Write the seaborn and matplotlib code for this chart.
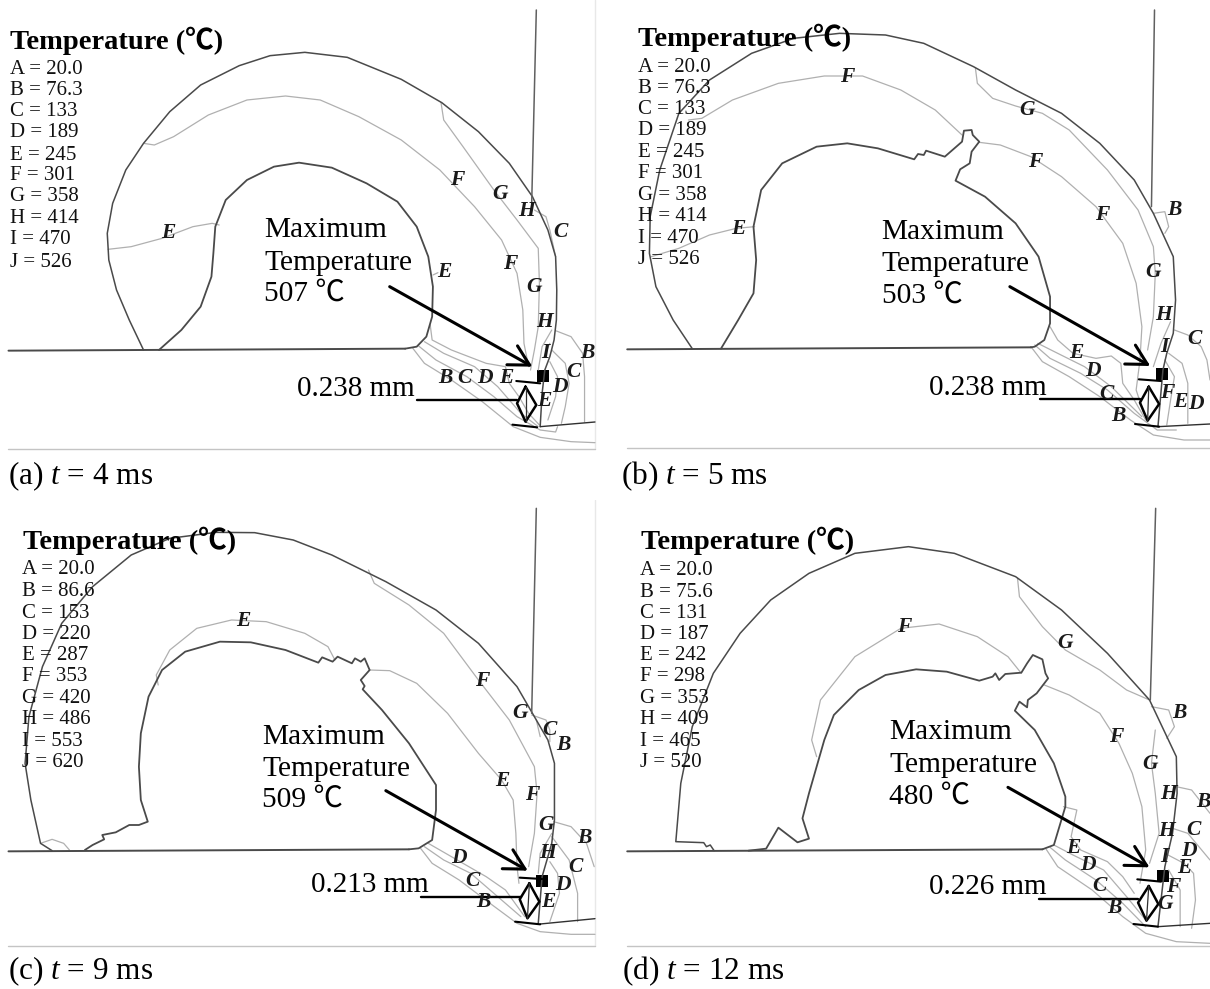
import matplotlib
matplotlib.use("Agg")
import matplotlib.pyplot as plt
import seaborn as sns

# ---- shared text ----
LEVEL_NAMES = list("ABCDEFGHIJ")
a_levels = ["20.0", "76.3", "133", "189", "245", "301", "358", "414", "470", "526"]
b_levels = ["20.0", "76.3", "133", "189", "245", "301", "358", "414", "470", "526"]
c_levels = ["20.0", "86.6", "153", "220", "287", "353", "420", "486", "553", "620"]
d_levels = ["20.0", "75.6", "131", "187", "242", "298", "353", "409", "465", "520"]

# ---- panel (a) ----
a_base = [(22,1052),(1050,1046)]
a_outer = [(372,1050),(335,960),(302,870),(282,780),(278,700),(292,610),(326,510),(372,430),(440,335),(520,255),(620,197),(700,167),(790,157),(900,172),(1040,238),(1145,308),(1240,395),(1320,490),(1380,590),(1420,690),(1440,770),(1443,870),(1442,960),(1436,1020),(1425,1070),(1412,1110),(1405,1180),(1400,1280)]
a_inner = [(412,1050),(470,990),(520,920),(548,830),(553,760),(558,680),(585,600),(640,540),(710,500),(775,488),(860,503),(950,550),(1030,605),(1080,680),(1110,770),(1122,860),(1120,950),(1105,1010),(1080,1040),(1050,1046)]
a_wall = [(1390,30),(1378,610)]
a_contours = [
    [(280,748),(340,740),(420,715),(500,680),(550,670),(568,675)],
    [(372,430),(400,435),(450,410),(540,345),(640,300),(740,288),(830,300),(930,350),(1040,420),(1140,510),(1230,620),(1300,720),(1340,820),(1355,930),(1358,1030),(1370,1100)],
    [(1143,308),(1150,360),(1200,440),(1280,570),(1340,660),(1395,745),(1398,850),(1395,980),(1385,1050),(1375,1110)],
    [(1122,825),(1135,818)],
    [(1385,630),(1415,650),(1425,690),(1440,770)],
    [(1440,992),(1480,1010),(1510,1060),(1515,1130),(1515,1266)],
    [(1430,1050),(1465,1090),(1475,1150),(1465,1220),(1455,1270)],
    [(1425,1085),(1445,1130),(1440,1190),(1420,1260)],
    [(1070,1045),(1100,1090),(1170,1140),(1250,1205),(1330,1280),(1400,1312),(1480,1325),(1542,1328)],
    [(1085,1038),(1130,1080),(1210,1130),(1280,1190),(1340,1250),(1400,1290),(1440,1296),(1445,1280)],
    [(1100,1025),(1150,1060),(1230,1100),(1290,1160),(1350,1240),(1395,1280)],
    [(1115,975),(1120,1020),(1170,1050),(1260,1090),(1310,1100),(1320,1150),(1345,1190),(1370,1240),(1398,1275)],
    [(1430,990),(1405,1040),(1395,1110)],
    [(1425,1030),(1410,1070)],
]
a_letters = [("F",1185,540),("G",1295,583),("H",1365,633),("C",1452,697),("E",437,700),("E",1152,815),("F",1323,793),("G",1385,860),("H",1412,967),("B",1522,1060),("I",1413,1058),("C",1487,1115),("D",1450,1160),("B",1155,1135),("C",1205,1135),("D",1257,1135),("E",1313,1135),("E",1412,1203)]

# ---- panel (b) ----
b_base = [(45,1048),(1100,1042)]
b_outer = [(215,1046),(165,960),(120,860),(103,760),(105,650),(130,510),(180,340),(260,240),(370,160),(480,115),(600,100),(720,105),(820,130),(950,200),(1060,270),(1180,340),(1280,430),(1370,540),(1420,640),(1472,770),(1478,900),(1472,1000),(1455,1060),(1445,1110),(1432,1280)]
b_inner = [(290,1046),(335,960),(375,880),(382,780),(375,680),(395,570),(450,490),(540,440),(620,430),(700,445),(795,478),(805,462),(820,465),(826,452),(875,470),(920,425),(925,392),(945,390),(948,405),(965,425),(945,455),(940,490),(915,508),(903,542),(980,590),(1060,670),(1120,770),(1150,890),(1150,970),(1135,1020),(1110,1040),(1100,1042)]
b_wall = [(1423,30),(1415,620)]
b_contours = [
    [(205,360),(240,355),(320,300),(440,250),(560,228),(660,228),(760,270),(850,330),(920,405)],
    [(965,427),(1020,435),(1100,470),(1180,530),(1270,620),(1340,730),(1375,850),(1390,980),(1385,1080),(1375,1170),(1395,1240)],
    [(955,205),(960,250),(1000,295),(1060,318),(1130,340),(1200,390),(1300,510),(1380,630),(1420,740),(1425,820),(1420,950),(1405,1050)],
    [(108,770),(180,745),(260,705),(330,685),(378,680)],
    [(1420,640),(1450,635),(1460,680),(1450,700)],
    [(1475,990),(1510,1005),(1545,1040),(1560,1080),(1568,1140)],
    [(1460,1060),(1495,1090),(1510,1150),(1510,1270)],
    [(1450,1080),(1475,1130),(1465,1200),(1455,1275)],
    [(1100,1040),(1130,1085),(1200,1130),(1280,1190),(1360,1260),(1420,1305),(1500,1320),(1568,1320)],
    [(1110,1035),(1150,1075),(1230,1120),(1300,1170),(1370,1240),(1430,1290),(1480,1290)],
    [(1118,1030),(1170,1060),(1240,1100),(1310,1160),(1390,1250)],
    [(1150,980),(1170,1020),(1210,1060),(1270,1075),(1310,1068),(1335,1090),(1340,1150),(1370,1200),(1400,1260)],
    [(1465,965),(1440,1030),(1420,1100)],
]
b_letters = [("F",620,232),("G",1090,330),("F",1112,485),("F",1285,645),("B",1475,630),("G",1418,815),("E",335,688),("H",1447,945),("C",1528,1018),("I",1450,1040),("E",1220,1060),("D",1262,1112),("C",1298,1182),("B",1328,1248),("F",1455,1180),("E",1490,1205),("D",1530,1212)]

# ---- panel (c) ----
c_base = [(22,1054),(1060,1048)]
c_outer = [(135,1052),(105,1030),(80,900),(65,790),(75,650),(110,500),(160,370),(240,260),(340,165),(440,115),(560,97),(660,98),(760,120),(860,165),(1000,245),(1130,330),(1240,430),(1340,560),(1420,720),(1437,790),(1437,960),(1430,1030),(1405,1130),(1395,1270)]
c_inner = [(220,1050),(240,1035),(270,1018),(265,1005),(300,997),(335,975),(360,975),(383,965),(365,900),(360,800),(365,700),(385,590),(420,510),(480,455),(570,425),(650,427),(740,450),(825,488),(835,472),(862,485),(875,470),(912,490),(920,475),(935,485),(945,475),(958,510),(935,540),(945,558),(940,568),(990,630),(1060,730),(1130,855),(1130,930),(1120,1020),(1085,1045),(1060,1048)]
c_wall = [(1390,25),(1378,640)]
c_contours = [
    [(410,555),(405,525),(440,450),(510,385),(600,360),(690,365),(790,400),(850,440),(868,480)],
    [(958,510),(1010,512),(1080,550),(1160,640),(1240,760),(1300,840),(1330,900),(1337,1000),(1340,1100),(1345,1150)],
    [(955,210),(970,250),(1060,315),(1150,400),(1240,540),(1320,660),(1385,800),(1392,880),(1385,1000),(1370,1100)],
    [(1378,645),(1415,660),(1425,690),(1425,725)],
    [(1390,660),(1400,710)],
    [(105,1030),(135,1018),(165,1030),(180,1050)],
    [(1435,965),(1480,980),(1520,1030),(1540,1100)],
    [(1430,1010),(1475,1080),(1497,1180),(1497,1265)],
    [(1425,1085),(1445,1120),(1450,1180),(1425,1265)],
    [(1430,1000),(1400,1060),(1395,1120)],
    [(1090,1045),(1120,1090),(1190,1140),(1270,1210),(1340,1270),(1400,1295),(1480,1303),(1542,1303)],
    [(1100,1040),(1150,1080),(1220,1120),(1290,1190),(1350,1250)],
    [(1110,1030),(1170,1070),(1260,1130),(1310,1170),(1360,1250)],
]
c_letters = [("E",630,362),("F",1250,542),("G",1348,640),("C",1425,690),("B",1460,735),("E",1303,842),("F",1380,885),("G",1415,975),("B",1515,1015),("H",1420,1058),("C",1492,1100),("D",1190,1075),("C",1225,1142),("B",1253,1205),("D",1458,1155),("E",1420,1205)]

# ---- panel (d) ----
d_base = [(45,1054),(1130,1048)]
d_outer = [(272,1052),(262,1035),(252,1040),(245,1028),(172,1025),(185,850),(215,680),(270,520),(340,400),(420,300),(520,220),(640,160),(780,140),(900,160),(1060,230),(1180,330),(1300,460),(1410,600),(1480,770),(1482,880),(1470,1000),(1450,1100),(1432,1280)]
d_inner = [(362,1052),(408,1046),(440,983),(490,1027),(520,1016),(503,955),(520,880),(560,720),(585,645),(650,570),(720,525),(800,508),(880,515),(965,542),(1000,530),(1007,520),(1017,540),(1033,522),(1075,518),(1090,490),(1105,465),(1130,478),(1138,520),(1145,535),(1115,580),(1092,600),(1090,622),(1070,605),(1058,632),(1110,690),(1160,790),(1190,890),(1190,920),(1160,1035),(1130,1048)]
d_wall = [(1426,25),(1412,600)]
d_contours = [
    [(540,770),(527,720),(550,600),(640,470),(760,385),(860,372),(960,410),(1040,470),(1075,520)],
    [(1135,555),(1200,585),(1280,640),(1330,730),(1365,820),(1390,920),(1400,1050),(1385,1150)],
    [(1065,235),(1070,290),(1130,380),(1190,450),(1280,510),(1350,570),(1410,600)],
    [(1425,690),(1415,790),(1425,880),(1435,1000),(1410,1090)],
    [(1415,620),(1460,630),(1475,680),(1455,715)],
    [(1480,860),(1520,870),(1568,940)],
    [(1470,985),(1510,1000),(1568,1080)],
    [(1450,1060),(1500,1090),(1525,1120),(1530,1200),(1520,1285)],
    [(1460,1110),(1490,1170),(1490,1280)],
    [(1140,1048),(1170,1100),(1260,1170),(1340,1250),(1400,1300),(1480,1325),(1568,1330)],
    [(1150,1042),(1190,1080),(1270,1140),(1340,1210),(1400,1280)],
    [(1160,1035),(1210,1065),(1290,1110),(1350,1190),(1400,1260)],
    [(1185,920),(1220,930),(1205,1010),(1230,1050),(1300,1085),(1340,1130),(1370,1180)],
]
d_letters = [("F",768,382),("G",1190,428),("B",1488,640),("F",1322,710),("G",1410,793),("H",1460,883),("B",1552,905),("H",1455,993),("C",1525,990),("D",1512,1052),("E",1210,1043),("D",1250,1095),("I",1450,1070),("E",1502,1105),("F",1472,1162),("C",1280,1158),("G",1450,1212),("B",1318,1225)]

sns.set_theme(style="white")
SERIF = ["Liberation Serif", "Noto Sans CJK SC", "DejaVu Sans"]
plt.rcParams["font.family"] = SERIF
plt.rcParams["mathtext.fontset"] = "custom"
plt.rcParams["mathtext.it"] = "Liberation Serif:italic"
plt.rcParams["mathtext.rm"] = "Liberation Serif"
plt.rcParams["mathtext.default"] = "regular"

W, H = 1210, 989
fig = plt.figure(figsize=(W / 100, H / 100), dpi=100, facecolor="white")

DARK, LIGHT, RULE = "#4a4a4a", "#b0b0b0", "#c4c4c4"


def trace(ax, pts, color, lw):
    sns.lineplot(x=[p[0] for p in pts], y=[p[1] for p in pts], sort=False,
                 estimator=None, errorbar=None, color=color, linewidth=lw,
                 legend=False, ax=ax)


panels = [
    dict(box=(0, 0, 605, 495), base=a_base, outer=a_outer, inner=a_inner, wall=a_wall, contours=a_contours,
         letters=a_letters, levels=a_levels, title=(25, 122), lx=25,
         ly=[208,272,336,398,465,527,590,656,720,787], mx=685, my=[691,788,881], mt="507", dist="0.238 mm",
         dt=(770,1166), arrow=((1010,860),(1380,1100)), sq=(1408,1127), dl=((1082,1200),(1340,1200)),
         t1=((1338,1143),(1400,1150)), dia=[(1362,1160),(1390,1215),(1362,1265),(1340,1210)],
         t2=((1328,1274),(1392,1282)), floor=((1400,1280),(1542,1266)), rule=(22,1542,1348), edge=1542,
         cap="(a) $\\mathit{t}$ = 4 ms", cp=(22,1430)),
    dict(box=(610, 0, 600, 495), base=b_base, outer=b_outer, inner=b_inner, wall=b_wall, contours=b_contours,
         letters=b_letters, levels=b_levels, title=(72, 112), lx=72,
         ly=[202,265,330,392,457,522,585,650,715,780], mx=710, my=[696,791,886], mt="503", dist="0.238 mm",
         dt=(833,1164), arrow=((1045,860),(1412,1098)), sq=(1442,1122), dl=((1125,1197),(1385,1197)),
         t1=((1382,1138),(1440,1143)), dia=[(1408,1160),(1435,1212),(1405,1262),(1385,1208)],
         t2=((1372,1272),(1435,1280)), floor=((1432,1280),(1568,1272)), rule=(45,1568,1345), edge=None,
         cap="(b) $\\mathit{t}$ = 5 ms", cp=(28,1430)),
    dict(box=(0, 500, 605, 489), base=c_base, outer=c_outer, inner=c_inner, wall=c_wall, contours=c_contours,
         letters=c_letters, levels=c_levels, title=(60, 122), lx=58,
         ly=[210,275,340,403,468,530,595,660,724,787], mx=680, my=[711,806,898], mt="509", dist="0.213 mm",
         dt=(805,1156), arrow=((1000,872),(1368,1112)), sq=(1405,1142), dl=((1090,1190),(1350,1190)),
         t1=((1347,1133),(1405,1137)), dia=[(1372,1150),(1398,1205),(1367,1255),(1347,1198)],
         t2=((1335,1265),(1400,1273)), floor=((1400,1272),(1542,1256)), rule=(22,1542,1338), edge=1542,
         cap="(c) $\\mathit{t}$ = 9 ms", cp=(22,1414)),
    dict(box=(610, 500, 600, 489), base=d_base, outer=d_outer, inner=d_inner, wall=d_wall, contours=d_contours,
         letters=d_letters, levels=d_levels, title=(80, 122), lx=78,
         ly=[212,277,340,403,467,530,595,660,723,787], mx=730, my=[696,794,890], mt="480", dist="0.226 mm",
         dt=(833,1161), arrow=((1040,862),(1410,1102)), sq=(1446,1128), dl=((1120,1197),(1380,1197)),
         t1=((1378,1138),(1440,1145)), dia=[(1408,1158),(1433,1212),(1402,1262),(1380,1208)],
         t2=((1368,1272),(1432,1280)), floor=((1432,1280),(1568,1270)), rule=(45,1568,1338), edge=None,
         cap="(d) $\\mathit{t}$ = 12 ms", cp=(32,1414)),
]

for p in panels:
    x0, y0, w, h = p["box"]
    ax = fig.add_axes([x0 / W, 1 - (y0 + h) / H, w / W, h / H])
    ax.set_axis_off()
    if p["edge"]:
        trace(ax, [(p["edge"], 0), (p["edge"], p["rule"][2])], "#e8e8e8", 1.0)
    for c in p["contours"]:
        trace(ax, c, LIGHT, 0.9)
    trace(ax, p["base"], DARK, 1.4)
    trace(ax, p["outer"], DARK, 1.1)
    trace(ax, p["inner"], DARK, 1.3)
    trace(ax, p["wall"], "#606060", 1.1)
    trace(ax, p["floor"], "#303030", 1.0)
    trace(ax, [(p["rule"][0], p["rule"][2]), (p["rule"][1], p["rule"][2])], RULE, 1.0)

    # dimension marks
    trace(ax, p["dl"], "black", 1.7)
    trace(ax, p["t1"], "black", 1.5)
    trace(ax, p["t2"], "black", 1.5)
    trace(ax, p["dia"] + p["dia"][:1], "black", 1.8)
    trace(ax, [p["dia"][0], p["dia"][2]], "#303030", 0.9)
    sns.scatterplot(x=[p["sq"][0]], y=[p["sq"][1]], marker="s", s=75, color="black",
                    linewidth=0, legend=False, ax=ax)
    ax.annotate("", xy=p["arrow"][1], xytext=p["arrow"][0],
                arrowprops=dict(arrowstyle="->,head_length=1.2,head_width=0.65", color="black",
                                lw=2.2, shrinkA=0, shrinkB=0))

    # texts
    ax.text(p["title"][0], p["title"][1], "Temperature (℃)", fontsize=20.5, fontweight="bold",
            family=SERIF, va="center", ha="left", color="black")
    for name, lev, yy in zip(LEVEL_NAMES, p["levels"], p["ly"]):
        ax.text(p["lx"], yy, f"{name} = {lev}", fontsize=15, family=SERIF, va="center", ha="left", color="#111111")
    for line, yy in zip(["Maximum", "Temperature", f"{p['mt']} ℃"], p["my"]):
        ax.text(p["mx"], yy, line, fontsize=21.2, family=SERIF, va="center", ha="left", color="black")
    ax.text(p["dt"][0], p["dt"][1], p["dist"], fontsize=21, family=SERIF, va="center", ha="left", color="black")
    for ch, lx, ly in p["letters"]:
        ax.text(lx, ly, ch, fontsize=15.5, fontweight="bold", fontstyle="italic", family="Liberation Serif",
                va="center", ha="center", color="#1a1a1a")
    ax.text(p["cp"][0], p["cp"][1], p["cap"], fontsize=22.5, family=SERIF, va="center", ha="left", color="black")

    ax.set_xlim(0, 1568)
    ax.set_ylim(h * 3, 0)

fig.savefig("out.png", dpi=100, facecolor="white")
